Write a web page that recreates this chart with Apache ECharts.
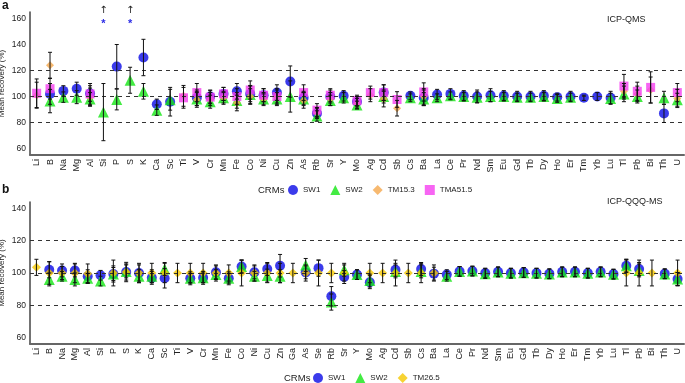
<!DOCTYPE html>
<html>
<head>
<meta charset="utf-8">
<script src="https://cdn.jsdelivr.net/npm/echarts@6/dist/echarts.min.js"></script>
<style>
  html, body { margin: 0; padding: 0; background: #fff; }
  #chart { width: 685px; height: 383px; }
</style>
</head>
<body>
<div id="chart"></div>
<script>
// panel a: ICP-QMS
var catsA = ['Li','B','Na','Mg','Al','Si','P','S','K','Ca','Sc','Ti','V','Cr','Mn','Fe','Co','Ni','Cu','Zn','As','Rb','Sr','Y','Mo','Ag','Cd','Sb','Cs','Ba','La','Ce','Pr','Nd','Sm','Eu','Gd','Tb','Dy','Ho','Er','Tm','Yb','Lu','Tl','Pb','Bi','Th','U'];
var sw1A = [null,102,104.3,106,102.3,null,123,null,130,94,96,null,99,100,102,104,102,101,103,111.5,99,87,100,100.5,96,null,103,null,100.5,99,101.5,102,100.5,100,101,100.5,100,100,100.5,99.5,100,99,100,99,null,null,null,87,null];
var sw1AErr = [0,8,4,5,6,0,17,0,14,4,11,0,6,5,5,6,6,5,6,12,5,4,5,4,4,0,6,0,3,6,4,4,4,5,5,4,4,4,4,3,4,2,3,5,0,0,0,7,0];
var sw2A = [null,96.5,99.5,99.5,98,88,97.7,112.5,104,89.5,97.5,null,98,96,99,97,101.5,98,98,100,98,85,97,99,93.4,null,100,null,99,98,99,100.5,100,99.5,100,100,99.5,99.5,100,98.5,99.5,null,null,98.5,102,100,null,99,97.5];
var sw2AErr = [0,9,4,5,5,22,8,10,6,4,8,0,5,5,4,6,7,4,5,12,5,4,4,4,3,0,5,0,3,5,3,3,3,4,4,3,3,3,3,3,3,0,0,4,6,5,0,5,5];
var tm153A = [101,124,null,null,99.5,null,null,null,null,null,null,100.5,97.7,98,99,95,100,98,100,null,97,87.5,98,null,94.6,101,98,91,null,100,null,null,null,null,null,null,null,null,null,null,null,null,null,null,104,102,105,null,98.5];
var tm153AErr = [10,10,0,0,7,0,0,0,0,0,0,8,6,5,5,6,6,5,6,0,6,4,5,0,4,5,6,6,0,6,0,0,0,0,0,0,0,0,0,0,0,0,0,0,6,6,10,0,7];
var tma515A = [102.5,106,null,null,102,null,null,null,null,null,null,99,103,99.5,102,100,105,101,100,null,103,89.5,101,null,97,103,103,97.7,null,103.5,null,null,null,null,null,null,null,null,null,null,null,null,null,null,108,104,107,null,103];
var tma515AErr = [11,8,0,0,8,0,0,0,0,0,0,8,7,5,5,6,7,5,5,0,6,5,5,0,4,5,6,6,0,7,0,0,0,0,0,0,0,0,0,0,0,0,0,0,9,7,12,0,7];
var offScaleA = ['Si','S'];

// panel b: ICP-QQQ-MS
var catsB = ['Li','B','Na','Mg','Al','Si','P','S','K','Ca','Sc','Ti','V','Cr','Mn','Fe','Co','Ni','Cu','Zn','Ga','As','Se','Rb','Sr','Y','Mo','Ag','Cd','Sb','Cs','Ba','La','Ce','Pr','Nd','Sm','Eu','Gd','Tb','Dy','Ho','Er','Tm','Yb','Lu','Tl','Pb','Bi','Th','U'];
var sw1B = [null,102,101.6,101.6,98,98.6,99.4,100.6,100,97,96.7,null,96.7,97,100.4,96.7,104,100.4,102.5,104.5,null,100.4,103,85.6,97.5,99,94.3,null,102,null,102.5,99.6,99,101,101.2,100,100.8,100,100.4,100,99.6,100.8,100.8,100,100.8,99.4,104.5,102.5,null,99.6,96.3];
var sw1BErr = [0,5,4,4,4,3,5,5,5,4,6,0,4,4,4,4,4,4,4,7,0,4,5,6,4,3,4,0,4,0,4,4,3,3,3,3,3,3,3,3,3,3,3,3,3,3,4,4,0,3,4];
var sw2B = [null,96,98,96,96.7,95,99.4,101,98,98,102.5,null,96.7,97,99,96.7,104,98,98.4,98,null,105,null,82,102,99,95.3,null,101,null,101,null,98,101,101.2,99.6,100.6,99.8,100.2,99.8,99.4,100.6,100.6,99.8,100.6,99.2,104.5,101.6,null,99.4,96.3];
var sw2BErr = [0,4,3,4,3,3,4,4,4,4,4,0,3,3,3,3,4,3,4,4,0,4,0,5,4,3,4,0,4,0,4,0,3,3,3,3,3,3,3,3,3,3,3,3,3,3,4,4,0,3,4];
var tm265B = [103.5,100,100,100,99.6,null,100,100.6,100,100,100,100,100,100,100,100,100,100,100,100,100,100,100,100,100,null,100,100,100,100,100,100,null,null,null,null,null,null,null,null,null,null,null,null,null,null,100,100,100,null,100];
var tm265BErr = [5,7,4,6,6,0,8,6,6,6,6,6,6,6,5,5,8,5,6,6,6,5,8,6,5,0,6,6,8,6,6,5,0,0,0,0,0,0,0,0,0,0,0,0,0,0,8,8,8,0,8];

var cBlue = '#0a0ae6', cGreen = '#14e614', cOrange = '#f5a84c', cMag = '#f53ff0', cYellow = '#f5c800';

function errData(vals, errs){
	var out = [];
	for (var i=0; i<vals.length; i++){
		if (vals[i] == null) continue;
		out.push([i, vals[i]-errs[i], vals[i]+errs[i]]);
	}
	return out;
}
function errBar(params, api){
	var lo = api.coord([api.value(0), api.value(1)]);
	var hi = api.coord([api.value(0), api.value(2)]);
	var st = {stroke: '#111', lineWidth: 1};
	return {type: 'group', children: [
		{type: 'line', shape: {x1: lo[0], y1: lo[1], x2: hi[0], y2: hi[1]}, style: st},
		{type: 'line', shape: {x1: lo[0]-2, y1: lo[1], x2: lo[0]+2, y2: lo[1]}, style: st},
		{type: 'line', shape: {x1: hi[0]-2, y1: hi[1], x2: hi[0]+2, y2: hi[1]}, style: st}
	]};
}
function pts(name, g, vals, color, symbol, size){
	return {
		type: 'scatter', name: name, xAxisIndex: g, yAxisIndex: g,
		symbol: symbol, symbolSize: size, z: 3,
		itemStyle: {color: color, opacity: 0.8},
		data: vals.map(function(v, i){ return v == null ? null : [i, v]; })
	};
}
function bars(g, vals, errs){
	return {type: 'custom', xAxisIndex: g, yAxisIndex: g, z: 5, silent: true,
		renderItem: errBar, data: errData(vals, errs)};
}
function refLines(g){
	return {type: 'line', xAxisIndex: g, yAxisIndex: g, data: [], silent: true,
		markLine: {silent: true, symbol: 'none', label: {show: false},
			lineStyle: {type: [4, 4], color: '#333', width: 1},
			data: [{yAxis: 80}, {yAxis: 100}, {yAxis: 120}]}};
}
function xAx(g, cats){
	return {type: 'category', gridIndex: g, data: cats, boundaryGap: true,
		axisLine: {lineStyle: {color: '#666', width: 2}},
		axisTick: {show: false},
		axisLabel: {rotate: 90, interval: 0, fontSize: 9, color: '#222', margin: 4, fontFamily: 'Liberation Sans'}};
}
function yAx(g, min, max, step){
	return {type: 'value', gridIndex: g, min: min, max: max, interval: step,
		name: 'Mean recovery (%)', nameLocation: 'middle', nameGap: 24, nameMoveOverlap: false,
		nameTextStyle: {fontSize: 8, color: '#222', fontFamily: 'Liberation Sans'},
		axisLine: {show: true, lineStyle: {color: '#444', width: 1.5}},
		axisTick: {show: false}, splitLine: {show: false},
		axisLabel: {fontSize: 8.5, color: '#222', margin: 4, fontFamily: 'Liberation Sans',
			formatter: function(v){ return (v >= 60 && v <= 160 && (v-60) % 20 == 0) ? String(v) : ''; }}};
}

var chart = echarts.init(document.getElementById('chart'));
var option = {
	animation: false,
	grid: [
		{left: 30, right: 1, top: 12, height: 143, outerBoundsMode: 'none', containLabel: false},
		{left: 30, right: 1, top: 202, height: 142, outerBoundsMode: 'none', containLabel: false}
	],
	xAxis: [xAx(0, catsA), xAx(1, catsB)],
	yAxis: [yAx(0, 55, 165, 5), yAx(1, 56, 144, 4)],
	legend: [
		{left: 288, top: 185, padding: 0, itemWidth: 10, itemHeight: 10, itemGap: 10,
			textStyle: {fontSize: 8, color: '#222', fontFamily: 'Liberation Sans'},
			data: ['SW1', 'SW2', 'TM15.3', 'TMA51.5']},
		{left: 313, top: 373, padding: 0, itemWidth: 10, itemHeight: 10, itemGap: 10,
			textStyle: {fontSize: 8, color: '#222', fontFamily: 'Liberation Sans'},
			data: ['SW1', 'SW2', 'TM26.5']}
	],
	graphic: [
		{type: 'text', left: 2, top: 0, style: {text: 'a', font: 'bold 12px Liberation Sans', fill: '#111'}},
		{type: 'text', left: 2, top: 184, style: {text: 'b', font: 'bold 12px Liberation Sans', fill: '#111'}},
		{type: 'text', left: 607, top: 15, style: {text: 'ICP-QMS', font: '9px Liberation Sans', fill: '#222'}},
		{type: 'text', left: 607, top: 197, style: {text: 'ICP-QQQ-MS', font: '9px Liberation Sans', fill: '#222'}},
		{type: 'text', left: 258, top: 185, style: {text: 'CRMs', font: '9.5px Liberation Sans', fill: '#222'}},
		{type: 'text', left: 284, top: 373, style: {text: 'CRMs', font: '9.5px Liberation Sans', fill: '#222'}}
	],
	series: [
		refLines(0),
		pts('SW1', 0, sw1A, cBlue, 'circle', 10),
		pts('SW2', 0, sw2A, cGreen, 'triangle', 11),
		pts('TM15.3', 0, tm153A, cOrange, 'diamond', 8),
		pts('TMA51.5', 0, tma515A, cMag, 'rect', 9),
		bars(0, sw1A, sw1AErr), bars(0, sw2A, sw2AErr), bars(0, tm153A, tm153AErr), bars(0, tma515A, tma515AErr),
		{type: 'custom', xAxisIndex: 0, yAxisIndex: 0, z: 6, silent: true, clip: false,
			data: offScaleA.map(function(c){ return [catsA.indexOf(c), 158]; }),
			renderItem: function(params, api){
				var p = api.coord([api.value(0), api.value(1)]);
				return {type: 'group', children: [
					{type: 'text', style: {text: '*', x: p[0], y: p[1]+3, align: 'center', verticalAlign: 'middle', font: 'bold 11px Liberation Sans', fill: '#2a2ae6'}},
					{type: 'text', style: {text: '↑', x: p[0], y: p[1]-11, align: 'center', verticalAlign: 'middle', font: '10px DejaVu Sans', fill: '#222'}}
				]};
			}},
		refLines(1),
		pts('SW1', 1, sw1B, cBlue, 'circle', 10),
		pts('SW2', 1, sw2B, cGreen, 'triangle', 11),
		pts('TM26.5', 1, tm265B, cYellow, 'diamond', 9),
		bars(1, sw1B, sw1BErr), bars(1, sw2B, sw2BErr), bars(1, tm265B, tm265BErr)
	]
};
chart.setOption(option);
</script>
</body>
</html>
